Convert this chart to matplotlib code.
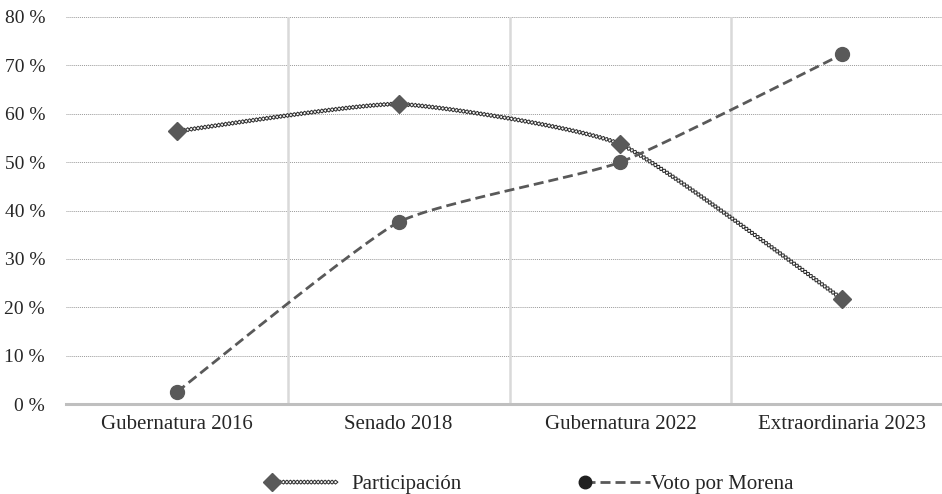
import numpy as np
import matplotlib
matplotlib.use("Agg")
import matplotlib.pyplot as plt
from matplotlib.patheffects import AbstractPathEffect
from matplotlib.path import Path
from matplotlib.transforms import Affine2D
from matplotlib.legend_handler import HandlerLine2D, HandlerTuple
from matplotlib.lines import Line2D

categories = ["Gubernatura 2016", "Senado 2018", "Gubernatura 2022", "Extraordinaria 2023"]
participacion = [56.4, 62.0, 53.7, 21.7]
voto_morena = [2.5, 37.6, 50.0, 72.3]
yticks = [0, 10, 20, 30, 40, 50, 60, 70, 80]
ytick_labels = [f"{v} %" for v in yticks]

plt.rcParams['font.family'] = ['Liberation Serif', 'DejaVu Serif']
TEXT = '#262626'
MARK = '#595959'
CHAIN = '#2e2e2e'
DASH = (0, (3.6, 1.8))


def smooth(xs, ys, n=120, k=12.0):
    """Light Bezier smoothing through the data points (Excel-like smoothed line)."""
    P = np.column_stack([xs, ys]).astype(float)
    Pext = np.vstack([P[0], P, P[-1]])
    out = []
    t = np.linspace(0, 1, n)
    for i in range(len(P) - 1):
        p0, p1, p2, p3 = Pext[i], Pext[i + 1], Pext[i + 2], Pext[i + 3]
        c1 = p1 + (p2 - p0) / k
        c2 = p2 - (p3 - p1) / k
        seg = ((1 - t) ** 3)[:, None] * p1 + (3 * (1 - t) ** 2 * t)[:, None] * c1 \
            + (3 * (1 - t) * t ** 2)[:, None] * c2 + (t ** 3)[:, None] * p2
        out.append(seg if i == 0 else seg[1:])
    out = np.vstack(out)
    return out[:, 0], out[:, 1]


class ChainEffect(AbstractPathEffect):
    """Draws a chain of small hollow diamonds along the path."""
    def __init__(self, spacing=2.5, half_len=1.7, half_wid=1.4, ec=CHAIN, fc='white', lw=0.75):
        super().__init__()
        self.spacing = spacing
        self.half_len = half_len
        self.half_wid = half_wid
        self.ec = ec
        self.fc = matplotlib.colors.to_rgba(fc)
        self.lw = lw
        self.diamond = Path([(-1, 0), (0, 1), (1, 0), (0, -1), (-1, 0)], closed=True)

    def draw_path(self, renderer, gc, tpath, affine, rgbFace=None):
        verts = affine.transform(tpath.vertices)
        if len(verts) < 2:
            return
        d = np.hypot(*np.diff(verts, axis=0).T)
        s = np.concatenate([[0], np.cumsum(d)])
        sp = renderer.points_to_pixels(self.spacing)
        hl = renderer.points_to_pixels(self.half_len)
        hw = renderer.points_to_pixels(self.half_wid)
        n = int(s[-1] // sp)
        ss = np.arange(n + 1) * sp + (s[-1] - n * sp) / 2
        xs = np.interp(ss, s, verts[:, 0])
        ys = np.interp(ss, s, verts[:, 1])
        eps = sp * 0.5
        xa = np.interp(np.clip(ss - eps, 0, s[-1]), s, verts[:, 0])
        xb = np.interp(np.clip(ss + eps, 0, s[-1]), s, verts[:, 0])
        ya = np.interp(np.clip(ss - eps, 0, s[-1]), s, verts[:, 1])
        yb = np.interp(np.clip(ss + eps, 0, s[-1]), s, verts[:, 1])
        ang = np.arctan2(yb - ya, xb - xa)
        gc0 = renderer.new_gc()
        gc0.copy_properties(gc)
        gc0.set_dashes(0, None)
        gc0.set_linewidth(self.lw)
        gc0.set_foreground(self.ec)
        for x, y, a in zip(xs, ys, ang):
            tr = Affine2D().scale(hl, hw).rotate(a).translate(x, y)
            renderer.draw_path(gc0, self.diamond, tr, self.fc)
        gc0.restore()


class LeftMarker(HandlerLine2D):
    """Legend handler drawing a single marker at the left end of the handle."""
    def create_artists(self, legend, orig_handle, xdescent, ydescent, width, height,
                       fontsize, trans):
        y = (height - ydescent) / 2
        m = Line2D([-xdescent], [y])
        self.update_prop(m, orig_handle, legend)
        m.set_linestyle('None')
        m.set_transform(trans)
        return [m]


fig = plt.figure(figsize=(9.42, 4.94), dpi=100)
ax = fig.add_axes([0.070, 0.182, 0.930, 0.7836])

x = np.arange(len(categories))

# Participación
sx, sy = smooth(x, participacion)
ax.plot(sx, sy, color=CHAIN, lw=1.5, path_effects=[ChainEffect()], zorder=3)
ax.plot(x, participacion, linestyle='None', marker='D', markersize=9.5,
        color=MARK, markeredgecolor=MARK, zorder=5, clip_on=False)

# Voto por Morena
vx, vy = smooth(x, voto_morena)
ax.plot(vx, vy, color=MARK, lw=2.0, linestyle=DASH, zorder=3)
ax.plot(x, voto_morena, linestyle='None', marker='o', markersize=10,
        color=MARK, markeredgecolor=MARK, zorder=5, clip_on=False)

ax.set_xlim(-0.5, 3.45)
ax.set_ylim(0, 80)
ax.set_yticks(yticks)
ax.set_yticklabels(ytick_labels)
ax.set_xticks(x)
ax.set_xticklabels(categories)
ax.tick_params(axis='both', length=0, colors=TEXT)
ax.tick_params(axis='y', labelsize=14, pad=15)
ax.tick_params(axis='x', labelsize=15, pad=8)

for sp_ in ['left', 'right', 'top']:
    ax.spines[sp_].set_visible(False)
ax.spines['bottom'].set_color('#bfbfbf')
ax.spines['bottom'].set_linewidth(2.2)
ax.spines['bottom'].set_zorder(2)

ax.yaxis.grid(True, linestyle=(0, (1, 1)), color='#9a9a9a', lw=0.7)
ax.set_axisbelow(True)
for b in [0.5, 1.5, 2.5]:
    ax.axvline(b, color='#d9d9d9', lw=1.8, zorder=1)

leg_p = Line2D([], [], color=CHAIN, lw=1.5, path_effects=[ChainEffect()])
leg_pm = Line2D([], [], linestyle='None', marker='D', markersize=9.5, color=MARK)
leg_d = Line2D([], [], color=MARK, lw=2.0, linestyle=DASH)
leg_dm = Line2D([], [], linestyle='None', marker='o', markersize=9, color='#1f1f1f')

common = dict(loc='center left', frameon=False, fontsize=15, borderpad=0, borderaxespad=0,
              handlelength=3.1, labelcolor=TEXT)
leg1 = fig.legend([(leg_p, leg_pm)], ["Participación"],
                  handler_map={tuple: HandlerTuple(ndivide=1, pad=0), leg_pm: LeftMarker()},
                  bbox_to_anchor=(272 / 942, 0.019), handletextpad=0.7, **common)
leg2 = fig.legend([(leg_d, leg_dm)], ["Voto por Morena"],
                  handler_map={tuple: HandlerTuple(ndivide=1, pad=0), leg_dm: LeftMarker()},
                  bbox_to_anchor=(585 / 942, 0.019), handletextpad=0.05, **common)

fig.savefig("out.png", dpi=100, facecolor='white')
